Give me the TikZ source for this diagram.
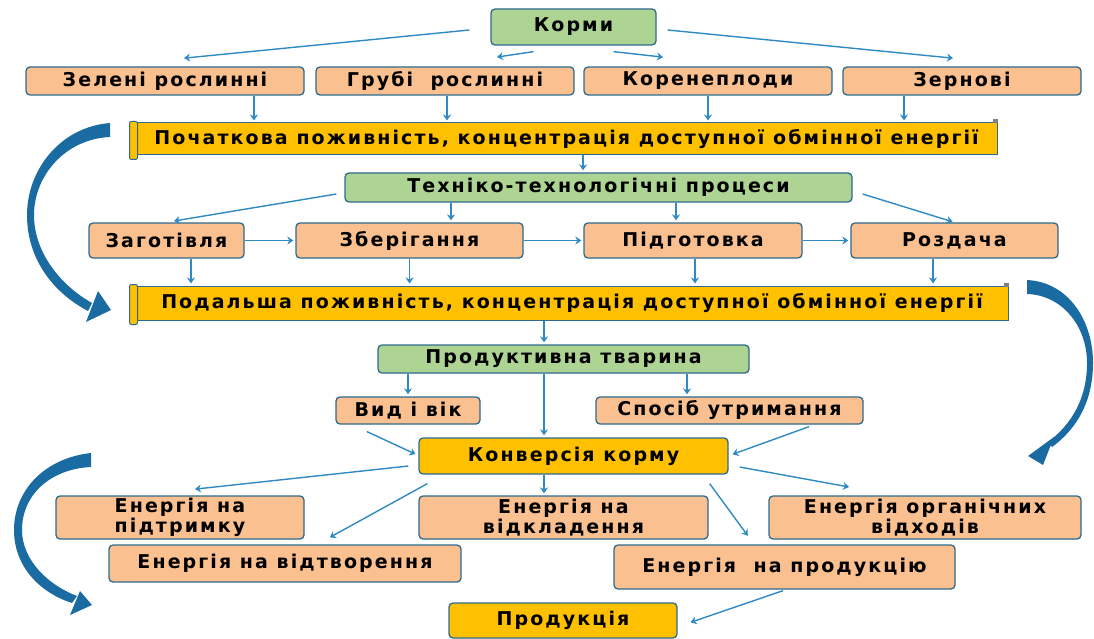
\documentclass[tikz,border=0pt]{standalone}
\usepackage{fontspec}
\usetikzlibrary{arrows.meta}
\newfontfamily\lbl[LetterSpace=11]{DejaVu Sans}
\newcommand\boxfont{\lbl\bfseries\fontsize{19}{15.5}\selectfont}
\definecolor{peach}{HTML}{FAC090}
\definecolor{leaf}{HTML}{AED494}
\definecolor{amber}{HTML}{FFC000}
\definecolor{edge}{HTML}{2E6A8E}
\definecolor{wire}{HTML}{2F8AC4}
\definecolor{swirl}{HTML}{1B6BA3}

\tikzset{
  box/.style={draw=edge, line width=1.3pt, rounded corners=4pt, inner sep=0pt,
    font=\boxfont, text=black, align=center},
  feed/.style={box, fill=peach},
  head/.style={box, fill=leaf},
  gold/.style={box, fill=amber},
  banner/.style={draw=edge, line width=1pt, fill=amber, inner sep=0pt, font=\boxfont},
  con/.style={draw=wire, line width=1.4pt, shorten >=2pt,
    -{Stealth[length=6pt,width=8pt,inset=2pt]}},
  dims/.style 2 args={minimum width=#1pt, minimum height=#2pt}
}

\begin{document}
\begin{tikzpicture}[x=1pt, y=-1pt]
  \useasboundingbox (0,0) rectangle (1094,639);

  % Feeds and their kinds
  \node[head, dims={165}{36}] (korm) at (573.5,27) {Корми};
  \node[feed, dims={278}{28}] (zel) at (165,81) {Зелені рослинні};
  \node[feed, dims={258}{28}] (grub) at (445,81) {Грубі~ рослинні};
  \node[feed, dims={248}{28}] (koren) at (708,81) {Коренеплоди};
  \node[feed, dims={238}{28}] (zern) at (962,81) {Зернові};

  \draw[con] ([xshift=-21pt,yshift=-3pt]korm.west) -- ([xshift=17pt,yshift=8pt]zel.north);
  \draw[con] ([xshift=-40pt,yshift=-6pt]korm.south) -- ([xshift=50pt,yshift=9pt]grub.north);
  \draw[con] ([xshift=40pt,yshift=-6pt]korm.south) -- ([xshift=-43pt,yshift=9pt]koren.north);
  \draw[con] ([xshift=11pt,yshift=-3pt]korm.east) -- ([xshift=-7pt,yshift=8pt]zern.north);

  % Initial value banner
  \node[banner, dims={861}{32}] (ban1) at (566.5,139)
    {Початкова поживність, концентрація доступної обмінної енергії};
  \filldraw[fill=amber, draw=edge, line width=1pt, rounded corners=2pt]
    ([xshift=-6pt,yshift=1pt]ban1.north west) rectangle ([xshift=2pt,yshift=-4pt]ban1.south west);
  \fill[gray] ([xshift=-5pt,yshift=3pt]ban1.north east) rectangle ([yshift=-1pt]ban1.north east);

  \draw[con] ([xshift=89pt]zel.south) -- ([xshift=89pt]zel.south |- ban1.north);
  \draw[con] ([xshift=2pt]grub.south) -- ([xshift=2pt]grub.south |- ban1.north);
  \draw[con] (koren.south) -- (koren.south |- ban1.north);
  \draw[con] ([xshift=-58pt]zern.south) -- ([xshift=-58pt]zern.south |- ban1.north);

  % Processing chain
  \node[head, dims={507}{29}] (tekh) at (598.5,187.5) {Техніко-технологічні процеси};
  \node[feed, dims={155}{35}] (zag) at (166.5,240.5) {Заготівля};
  \node[feed, dims={227}{35}] (zber) at (409.5,240.5) {Зберігання};
  \node[feed, dims={218}{35}] (pidg) at (693,240.5) {Підготовка};
  \node[feed, dims={207}{35}] (rozd) at (954.5,240.5) {Роздача};

  \draw[con] ([xshift=-15.5pt]tekh.north |- ban1.south) -- ([xshift=-15.5pt]tekh.north);
  \draw[con] ([xshift=-8pt,yshift=-6.5pt]tekh.west) -- ([xshift=5.5pt,yshift=1pt]zag.north);
  \draw[con] ([xshift=41.5pt]zber.north |- tekh.south) -- ([xshift=41.5pt]zber.north);
  \draw[con] ([xshift=-17pt]pidg.north |- tekh.south) -- ([xshift=-17pt]pidg.north);
  \draw[con] ([xshift=10pt,yshift=-6.5pt]tekh.east) -- (rozd.north);
  \draw[con] (zag) -- (zber);
  \draw[con] (zber) -- (pidg);
  \draw[con] (pidg) -- (rozd);

  % Further value banner
  \node[banner, dims={872}{34}] (ban2) at (572,303)
    {Подальша поживність, концентрація доступної обмінної енергії};
  \filldraw[fill=amber, draw=edge, line width=1pt, rounded corners=2pt]
    ([xshift=-6pt,yshift=1pt]ban2.north west) rectangle ([xshift=2pt,yshift=-4pt]ban2.south west);
  \fill[gray] ([xshift=-5pt,yshift=3pt]ban2.north east) rectangle ([yshift=-1pt]ban2.north east);

  \draw[con] ([xshift=24.5pt]zag.south) -- ([xshift=24.5pt]zag.south |- ban2.north);
  \draw[con] (zber.south) -- (zber.south |- ban2.north);
  \draw[con] ([xshift=2pt]pidg.south) -- ([xshift=2pt]pidg.south |- ban2.north);
  \draw[con] ([xshift=-21.5pt]rozd.south) -- ([xshift=-21.5pt]rozd.south |- ban2.north);

  % Animal and conversion
  \node[head, dims={371}{28}] (prod) at (563.5,359) {Продуктивна тварина};
  \node[feed, dims={144}{27}] (vyd) at (408,410.5) {Вид і вік};
  \node[feed, dims={267}{27}] (spos) at (729.5,410.5) {Спосіб утримання};
  \node[gold, dims={309}{36}] (konv) at (573.5,456) {Конверсія корму};

  \draw[con] ([xshift=-19.5pt]prod.north |- ban2.south) -- ([xshift=-19.5pt]prod.north);
  \draw[con] (vyd.north |- prod.south) -- (vyd.north);
  \draw[con] ([xshift=-42.5pt]spos.north |- prod.south) -- ([xshift=-42.5pt]spos.north);
  \draw[con] ([xshift=-19.5pt]prod.south) -- ([xshift=-19.5pt]prod.south |- konv.north);
  \draw[con] ([xshift=-41pt,yshift=-7pt]vyd.south) -- ([xshift=-1pt,yshift=1pt]konv.west);
  \draw[con] ([xshift=79.5pt,yshift=-2pt]spos.south) -- ([xshift=2pt,yshift=1pt]konv.east);

  % Energy shares
  \node[feed, dims={248}{43}, align=left] (pidt) at (180,517.5) {Енергія на\\підтримку};
  \node[feed, dims={289}{43}] (vidk) at (563.5,517.5) {Енергія на\\відкладення};
  \node[feed, dims={312}{43}] (orgv) at (925,517.5) {Енергія органічних\\відходів};
  \node[feed, dims={352}{37}] (vidt) at (285,563.5) {Енергія на відтворення};
  \node[feed, dims={341}{44}] (prodk) at (784.5,567) {Енергія~ на продукцію};
  \node[gold, dims={228}{35}] (produkc) at (563,620.5) {Продукція};

  \draw[con] ([xshift=-10pt,yshift=-10pt]konv.west) -- ([xshift=13pt,yshift=6pt]pidt.north);
  \draw[con] ([xshift=9pt,yshift=-9pt]konv.south west) -- ([xshift=43pt,yshift=6pt]vidt.north);
  \draw[con] ([xshift=-29.5pt]konv.south) -- ([xshift=-29.5pt]konv.south |- vidk.north);
  \draw[con] ([xshift=-19pt,yshift=-9pt]konv.south east) -- ([xshift=-35.5pt,yshift=7pt]prodk.north);
  \draw[con] ([xshift=11pt,yshift=-11pt]konv.east) -- ([xshift=-74pt,yshift=8pt]orgv.north);
  \draw[con] ([xshift=-1.5pt,yshift=-1pt]prodk.south) -- ([xshift=11pt,yshift=-2.5pt]produkc.east);

  % Big curved arrows
  \fill[swirl] (110,123) .. controls (60,127) and (27,170) .. (27,215)
    .. controls (27,258) and (52,292) .. (88,311) -- (92,303)
    .. controls (60,285) and (34,252) .. (34,215)
    .. controls (34,176) and (65,139) .. (110,137) -- cycle;
  \fill[swirl] (98,291) -- (111,310) -- (86,322) -- cycle;
  \fill[swirl] (1027,280) .. controls (1068,282) and (1093,320) .. (1093,363)
    .. controls (1093,400) and (1078,428) .. (1052,447) -- (1048,442)
    .. controls (1072,424) and (1087,398) .. (1087,363)
    .. controls (1087,326) and (1062,295) .. (1027,294) -- cycle;
  \fill[swirl] (1054,437) -- (1043,465) -- (1028,456) -- cycle;
  \fill[swirl] (91,453) .. controls (45,458) and (14,490) .. (14,530)
    .. controls (14,565) and (38,592) .. (72,603) -- (77,596)
    .. controls (48,585) and (22,560) .. (22,530)
    .. controls (22,495) and (50,469) .. (91,467) -- cycle;
  \fill[swirl] (80,591) -- (92,605) -- (70,615) -- cycle;
\end{tikzpicture}
\end{document}
